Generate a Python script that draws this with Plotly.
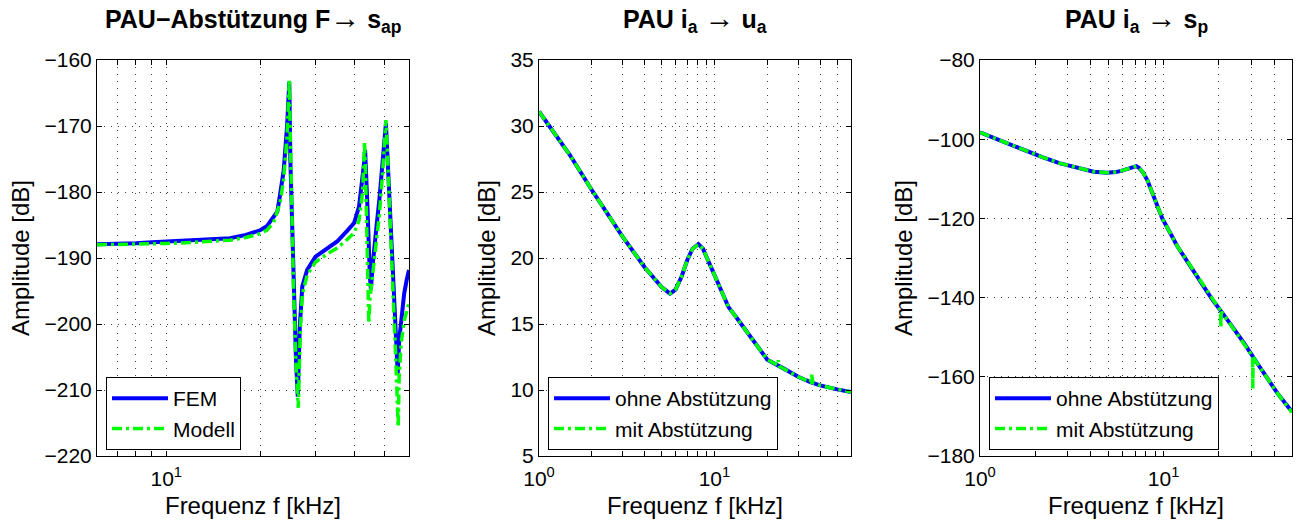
import plotly.graph_objects as go
import numpy as np

# ---------------- data ----------------
# Panel 1: PAU-Abstützung F -> s_ap
f1_fem = [6.0, 7.0, 8.0, 9.0, 10.0, 12.0, 14.0, 16.0, 18.0, 20.0, 21.0, 22.1, 22.7, 23.2, 23.8, 24.4,
          24.65, 24.8, 25.0, 25.3, 25.6, 26.06, 26.4, 26.8, 27.3, 28.3, 30.1, 32.8, 35.3, 38.0, 40.0,
          41.5, 42.6, 43.1, 43.4, 43.8, 44.2, 44.95, 45.3, 45.8, 46.4, 47.3, 48.2, 49.4, 50.2, 50.6,
          51.0, 51.9, 53.2, 54.5, 55.2, 55.8, 56.6, 57.9, 59.0, 60.0]
db1_fem = [-187.9, -187.85, -187.75, -187.6, -187.5, -187.35, -187.2, -187.0, -186.5, -185.8, -185.2,
           -183.8, -183.0, -180.2, -176.7, -170.0, -166.0, -163.3, -175.2, -185.3, -195.3, -205.5,
           -211.0, -200.4, -194.3, -191.8, -189.8, -188.6, -187.5, -185.9, -184.7, -182.2, -178.2,
           -175.5, -173.6, -177.0, -182.7, -192.8, -194.8, -191.5, -188.3, -184.8, -181.2, -175.2,
           -171.0, -169.6, -173.0, -180.2, -192.8, -202.9, -207.5, -202.5, -199.4, -195.4, -193.3,
           -191.8]
f1_mod = [6.0, 8.0, 10.0, 12.0, 14.0, 16.0, 18.0, 20.0, 21.0, 22.1, 23.2, 23.8, 24.4, 24.65, 24.8,
          25.0, 25.3, 25.6, 26.06, 26.5, 26.9, 27.3, 28.3, 30.1, 32.8, 35.3, 38.0, 40.0, 41.5, 42.6,
          43.0, 43.2, 43.5, 44.0, 44.6, 45.0, 45.8, 46.4, 47.3, 48.2, 49.4, 50.2, 50.6, 51.0, 51.9,
          53.2, 54.5, 55.4, 55.8, 56.6, 57.9, 59.0, 60.0]
db1_mod = [-188.0, -187.95, -187.8, -187.65, -187.5, -187.3, -186.9, -186.3, -185.8, -184.6, -181.5,
           -178.0, -171.5, -167.0, -163.0, -172.0, -184.0, -195.0, -206.0, -212.7, -201.0, -195.5,
           -192.6, -190.6, -189.4, -188.5, -187.2, -186.2, -184.3, -180.0, -175.0, -172.4, -176.5,
           -187.0, -199.9, -196.0, -192.5, -190.5, -187.0, -183.5, -177.0, -171.5, -169.1, -172.5,
           -180.5, -194.0, -206.0, -215.6, -208.0, -203.0, -199.5, -198.0, -196.8]

# Panel 2: PAU i_a -> u_a
f2_ohne = [1.0, 1.5, 2.0, 3.0, 4.0, 5.0, 5.58, 6.0, 6.5, 7.0, 7.5, 8.1, 8.6, 9.0, 10.0, 11.0, 12.0,
           13.5, 15.0, 17.0, 20.0, 25.0, 30.0, 35.2, 40.0, 50.0, 60.0]
db2_ohne = [31.1, 27.8, 25.15, 21.6, 19.3, 17.8, 17.3, 17.6, 18.6, 19.85, 20.7, 21.05, 20.7, 20.1,
            18.6, 17.3, 16.3, 15.4, 14.55, 13.5, 12.3, 11.6, 11.0, 10.6, 10.35, 10.05, 9.85]
f2_mit = [1.0, 1.5, 2.0, 3.0, 4.0, 5.0, 5.58, 6.0, 6.5, 7.0, 7.5, 8.1, 8.6, 9.0, 10.0, 11.0, 12.0,
          13.5, 15.0, 17.0, 20.0, 22.8, 23.1, 23.4, 25.0, 30.0, 35.2, 35.8, 36.4, 40.0, 50.0, 60.0]
db2_mit = [31.1, 27.8, 25.15, 21.6, 19.3, 17.8, 17.3, 17.6, 18.6, 19.85, 20.7, 21.05, 20.7, 20.1,
           18.6, 17.3, 16.3, 15.4, 14.55, 13.5, 12.3, 11.9, 12.25, 11.8, 11.6, 11.0, 10.6, 11.15,
           10.55, 10.35, 10.05, 9.85]

# Panel 3: PAU i_a -> s_p
f3_ohne = [1.0, 1.3, 1.8, 2.2, 2.73, 3.3, 4.16, 4.9, 5.5, 6.06, 6.5, 6.88, 7.1, 7.33, 7.7, 8.15, 8.85,
           9.83, 11.9, 14.6, 18.1, 22.3, 27.4, 33.8, 41.7, 50.0]
db3_ohne = [-98.3, -100.4, -103.2, -104.6, -106.1, -107.1, -108.2, -108.45, -108.3, -107.8, -107.3,
            -106.9, -106.8, -107.2, -108.3, -110.3, -114.5, -120.0, -127.1, -133.4, -140.0, -145.7,
            -151.5, -157.9, -164.2, -168.8]
f3_mit = [1.0, 1.3, 1.8, 2.2, 2.73, 3.3, 4.16, 4.9, 5.5, 6.06, 6.5, 6.88, 7.1, 7.33, 7.7, 8.15, 8.85,
          9.83, 11.9, 14.6, 18.1, 20.4, 20.5, 20.6, 22.3, 27.4, 30.5, 30.6, 30.7, 33.8, 41.7, 50.0]
db3_mit = [-98.3, -100.4, -103.2, -104.6, -106.1, -107.1, -108.2, -108.45, -108.3, -107.8, -107.3,
           -106.9, -106.8, -107.2, -108.3, -110.3, -114.5, -120.0, -127.1, -133.4, -140.0, -143.3,
           -147.5, -143.6, -145.7, -151.5, -154.8, -163.0, -155.0, -157.9, -164.2, -169.0]

ARROW = '<span style="font-weight:normal;font-size:30px">\u2192</span>'
titles = ["<b>PAU\u2212Abstützung F</b>" + ARROW + "<b> s<sub>ap</sub></b>",
          "<b>PAU i<sub>a</sub></b> " + ARROW + " <b>u<sub>a</sub></b>",
          "<b>PAU i<sub>a</sub></b> " + ARROW + " <b>s<sub>p</sub></b>"]
legend_names = [["FEM", "Modell"], ["ohne Abstützung", "mit Abstützung"],
                ["ohne Abstützung", "mit Abstützung"]]
x_ranges = [(6, 60), (1, 60), (1, 50)]
y_ranges = [(-220, -160, 10), (5, 35, 5), (-180, -80, 20)]

# ---------------- layout geometry ----------------
W, H = 1298, 522
x_px = [(97, 409), (539, 851), (980, 1292)]
y_top, y_bot = 60, 456
FONT = "Liberation Sans, Arial, Helvetica, sans-serif"

BLUE = "#0000ff"
GREEN = "#00ff00"
GRID = "rgba(0,0,0,0.75)"
GRIDDASH = "1px,6px"

fig = go.Figure()

series = [(f1_fem, db1_fem, f1_mod, db1_mod),
          (f2_ohne, db2_ohne, f2_mit, db2_mit),
          (f3_ohne, db3_ohne, f3_mit, db3_mit)]

for i, (fa, da, fb, dbb) in enumerate(series):
    ax = "" if i == 0 else str(i + 1)
    leg = "legend" if i == 0 else f"legend{i + 1}"
    fig.add_trace(go.Scatter(x=fa, y=da, mode="lines", name=legend_names[i][0],
                             line=dict(color=BLUE, width=4), xaxis="x" + ax, yaxis="y" + ax,
                             legend=leg))
    fig.add_trace(go.Scatter(x=fb, y=dbb, mode="lines", name=legend_names[i][1],
                             line=dict(color=GREEN, width=3.5, dash="10px,4px,3px,4px"),
                             xaxis="x" + ax, yaxis="y" + ax, legend=leg))

layout = dict(width=W, height=H, margin=dict(l=0, r=0, t=0, b=0, autoexpand=False),
              paper_bgcolor="white", plot_bgcolor="white", template="none",
              font=dict(family=FONT, size=20, color="black"), annotations=[])

decade_vals = [1, 2, 3, 4, 5, 6, 7, 8, 9, 10, 20, 30, 40, 50, 60]
for i in range(3):
    ax = "" if i == 0 else str(i + 1)
    lo, hi = x_ranges[i]
    tv = [v for v in decade_vals if lo <= v <= hi]
    tt = ["10<sup>0</sup>" if v == 1 else ("10<sup>1</sup>" if v == 10 else "") for v in tv]
    x0, x1 = x_px[i]
    layout["xaxis" + ax] = dict(
        type="log", range=[np.log10(lo), np.log10(hi)], automargin=False,
        domain=[x0 / W, x1 / W], anchor="y" + ax,
        tickvals=tv, ticktext=tt, ticks="inside", ticklen=5, tickcolor="black",
        ticklabelstandoff=4,
        showline=True, linecolor="black", linewidth=1, mirror="ticks",
        showgrid=True, gridcolor=GRID, griddash=GRIDDASH, gridwidth=1,
        zeroline=False, tickfont=dict(size=21, family=FONT),
        title=dict(text="Frequenz f [kHz]", font=dict(size=24, family=FONT), standoff=7),
    )
    ylo, yhi, dt = y_ranges[i]
    layout["yaxis" + ax] = dict(
        range=[ylo, yhi], dtick=dt, tick0=ylo, automargin=False,
        domain=[1 - y_bot / H, 1 - y_top / H], anchor="x" + ax,
        ticks="inside", ticklen=5, tickcolor="black",
        showline=True, linecolor="black", linewidth=1, mirror="ticks",
        showgrid=True, gridcolor=GRID, griddash=GRIDDASH, gridwidth=1,
        zeroline=False, tickfont=dict(size=21, family=FONT),
        title=dict(text="Amplitude [dB]", font=dict(size=24, family=FONT), standoff=8),
    )
    leg = "legend" if i == 0 else f"legend{i + 1}"
    layout[leg] = dict(x=(x0 + 9) / W, y=1 - 450 / H, xanchor="left", yanchor="bottom",
                       bgcolor="white", bordercolor="black", borderwidth=1,
                       font=dict(size=21, family=FONT), itemwidth=56, tracegroupgap=0)
    layout["annotations"].append(dict(
        text=titles[i], xref="x" + ax + " domain", yref="paper", x=0.5, y=1 - 19 / H,
        xanchor="center", yanchor="middle", showarrow=False,
        font=dict(size=25, family=FONT, color="black")))

fig.update_layout(**layout)
fig.write_html("out.html", config={"displayModeBar": False},
               post_script="document.body.style.margin='0';document.body.style.overflow='hidden';")
